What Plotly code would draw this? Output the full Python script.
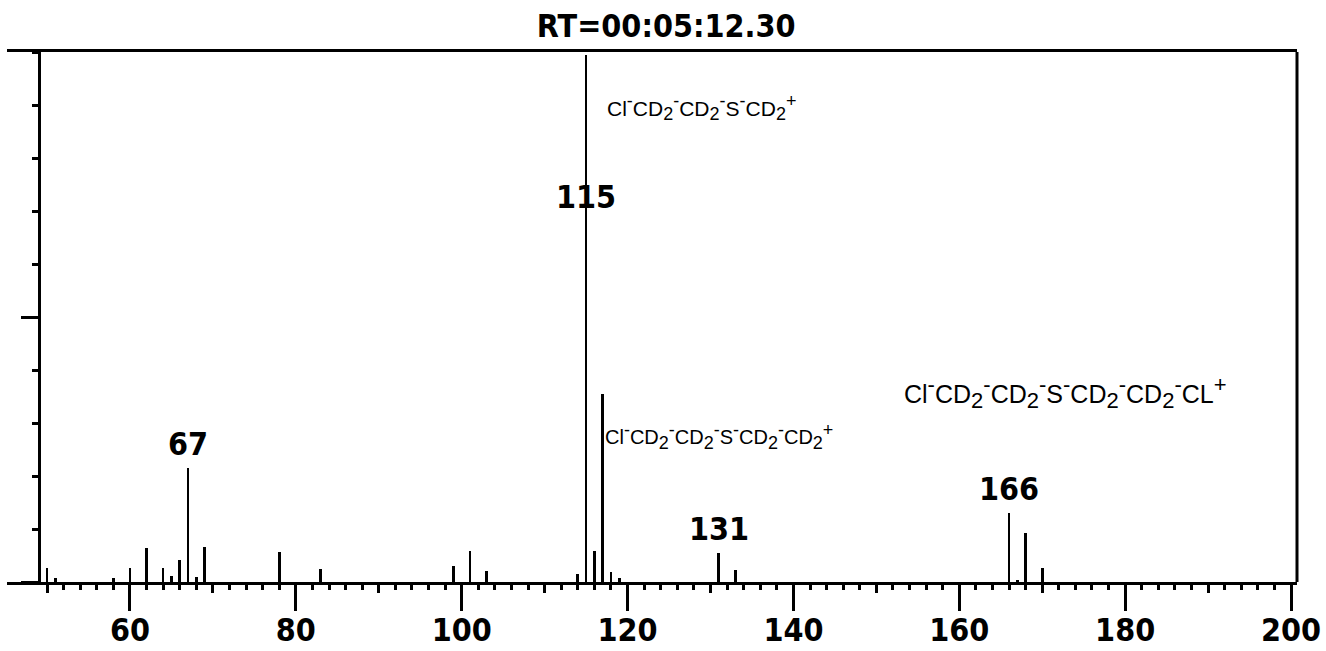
import plotly.graph_objects as go

# Mass spectrum at RT=00:05:12.30 (relative abundance, %)
mz = [50, 51, 58, 60, 62, 64, 65, 66, 67, 68, 69, 78, 83, 99, 101, 103,
      114, 115, 116, 117, 118, 119, 131, 133, 166, 167, 168, 170]
abundance = [2.6, 0.8, 0.8, 2.6, 6.4, 2.6, 1.1, 4.2, 21.5, 1.0, 6.6, 5.7, 2.5, 3.0, 5.8, 2.0,
             1.6, 99.5, 5.8, 35.5, 1.9, 0.7, 5.5, 2.3, 13.0, 0.4, 9.2, 2.6]

labelled_peaks = [67, 115, 131, 166]
title_text = "RT=00:05:12.30"

major_ticks = [60, 80, 100, 120, 140, 160, 180, 200]
mid_ticks = [50, 70, 90, 110, 130, 150, 170, 190]
minor_ticks = list(range(50, 201, 2))

BOLD_NARROW = "Liberation Sans Narrow, DejaVu Sans Condensed, Arial Narrow, sans-serif"
PLAIN = "Liberation Sans, Arial, Helvetica, sans-serif"


def formula(parts, size):
    """Build a fragment formula; parts are (text, kind) with kind in '', 'sub', 'sup'."""
    small = round(size * 0.88)
    out = ""
    for text, kind in parts:
        if kind:
            out += f"<{kind}><span style='font-size:{small}px'>{text}</span></{kind}>"
        else:
            out += text
    return out


chain = [("Cl", ""), ("-", "sup"), ("CD", ""), ("2", "sub"), ("-", "sup"), ("CD", ""), ("2", "sub"),
         ("-", "sup"), ("S", ""), ("-", "sup"), ("CD", ""), ("2", "sub")]
frag_a = chain + [("+", "sup")]
frag_b = chain + [("-", "sup"), ("CD", ""), ("2", "sub"), ("+", "sup")]
frag_c = chain + [("-", "sup"), ("CD", ""), ("2", "sub"), ("-", "sup"), ("CL", ""), ("+", "sup")]

X_RANGE = [45.17, 200.72]

# mid-length ticks carry the m/z labels; long ticks at the labelled values come from the main axis
label_ticks = sorted(mid_ticks + major_ticks)
label_text = [str(v) if v in major_ticks else "" for v in label_ticks]

fig = go.Figure()
fig.add_trace(go.Bar(x=mz, y=abundance, width=0.32, marker=dict(color="black", line=dict(width=0)),
                     hoverinfo="x+y", showlegend=False))
# helper trace so the secondary tick axis is drawn
fig.add_trace(go.Scatter(x=[], y=[], xaxis="x2", yaxis="y", showlegend=False))

label_font = dict(family=BOLD_NARROW, size=32, color="black", weight="bold")
annotations = []
for m, a in zip(mz, abundance):
    if m in labelled_peaks:
        if a > 90:
            annotations.append(dict(x=m, y=72.6, text=str(m), showarrow=False, xanchor="center",
                                    yanchor="middle", font=label_font))
        else:
            annotations.append(dict(x=m, y=a, text=str(m), showarrow=False, xanchor="center",
                                    yanchor="bottom", yshift=3, font=label_font))

for parts, size, x, y in [(frag_a, 21, 117.3, 89.6), (frag_b, 20, 117.0, 27.4), (frag_c, 25, 153.1, 35.8)]:
    annotations.append(dict(x=x, y=y, text=formula(parts, size), showarrow=False, xanchor="left",
                            yanchor="middle", font=dict(family=PLAIN, size=size, color="black")))

fig.update_layout(
    width=1326, height=651, autosize=False,
    margin=dict(l=7, r=29, t=52, b=69, autoexpand=False),
    paper_bgcolor="white", plot_bgcolor="white",
    bargap=0,
    title=dict(text=title_text, x=0.511, xref="paper", xanchor="center", y=0.96, yref="container",
               yanchor="middle", automargin=False,
               font=dict(family=BOLD_NARROW, size=32, color="black", weight="bold")),
    xaxis=dict(range=X_RANGE, automargin=False, showgrid=False, zeroline=False, showline=True, linewidth=3,
               linecolor="black", mirror=True, ticks="outside", tickmode="array", tickvals=major_ticks,
               ticklen=26, tickwidth=2.5, tickcolor="black", showticklabels=False,
               minor=dict(tickmode="array", tickvals=minor_ticks, ticks="outside", ticklen=5, tickwidth=2.5,
                          tickcolor="black", showgrid=False)),
    xaxis2=dict(range=X_RANGE, automargin=False, overlaying="x", anchor="y", side="bottom", showgrid=False,
                zeroline=False, showline=False, ticks="outside", tickmode="array", tickvals=label_ticks,
                ticktext=label_text, ticklen=10, tickwidth=2.5, tickcolor="black", ticklabelstandoff=10,
                tickfont=dict(family=BOLD_NARROW, size=32, color="black", weight="bold")),
    yaxis=dict(range=[0, 100], automargin=False, anchor="free", position=32 / 1290, showgrid=False,
               zeroline=False, showline=True, linewidth=3, linecolor="black", ticks="outside",
               tickmode="array", tickvals=[0, 50], ticklen=17, tickwidth=2.5, tickcolor="black",
               showticklabels=False,
               minor=dict(dtick=10, ticks="outside", ticklen=6, tickwidth=2.5, tickcolor="black", showgrid=False)),
    shapes=[dict(type="line", xref="paper", yref="paper", x0=1, x1=1, y0=0, y1=1,
                 line=dict(color="black", width=3))],
    annotations=annotations,
)

fig.write_html("out.html")
